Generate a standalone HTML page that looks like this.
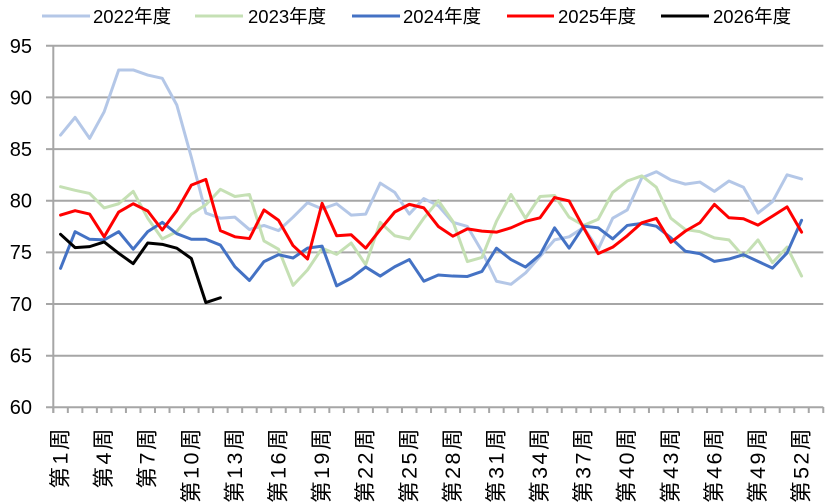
<!DOCTYPE html>
<html>
<head>
<meta charset="utf-8">
<style>
  html, body { margin: 0; padding: 0; background: #ffffff; }
  svg { display: block; }
  text { font-family: "Liberation Sans", "Noto Sans CJK SC", sans-serif; fill: #000; }
</style>
</head>
<body>
<svg width="834" height="502" viewBox="0 0 834 502" xmlns="http://www.w3.org/2000/svg">
  <rect x="0" y="0" width="834" height="502" fill="#ffffff"/>

  <!-- Legend -->
  <g stroke-width="3" stroke-linecap="butt">
    <line x1="42" y1="16" x2="90" y2="16" stroke="#b4c7e7"/>
    <line x1="195" y1="16" x2="243" y2="16" stroke="#c5e0b4"/>
    <line x1="352" y1="16" x2="400" y2="16" stroke="#4472c4"/>
    <line x1="507" y1="16" x2="554" y2="16" stroke="#ff0000"/>
    <line x1="661" y1="16" x2="709" y2="16" stroke="#000000"/>
  </g>
  <g font-size="18.5">
    <text x="93" y="23">2022年度</text>
    <text x="248" y="23">2023年度</text>
    <text x="403" y="23">2024年度</text>
    <text x="558" y="23">2025年度</text>
    <text x="713" y="23">2026年度</text>
  </g>

  <!-- Horizontal gridlines -->
  <g stroke="#a6a6a6" stroke-width="2">
    <line x1="46" y1="45.7" x2="823.3" y2="45.7"/>
    <line x1="46" y1="97.4" x2="823.3" y2="97.4"/>
    <line x1="46" y1="149.1" x2="823.3" y2="149.1"/>
    <line x1="46" y1="200.7" x2="823.3" y2="200.7"/>
    <line x1="46" y1="252.4" x2="823.3" y2="252.4"/>
    <line x1="46" y1="304.0" x2="823.3" y2="304.0"/>
    <line x1="46" y1="355.7" x2="823.3" y2="355.7"/>
    <line x1="46" y1="407.3" x2="823.3" y2="407.3"/>
    <!-- vertical axis -->
    <line x1="53.3" y1="45.7" x2="53.3" y2="413"/>
  </g>
  <!-- X tick marks -->
  <g transform="matrix(14.528 0 0 1 53.3 0)">
    <path fill="none" stroke="#a6a6a6" stroke-width="2" vector-effect="non-scaling-stroke"
      d="M0 407v6M1 407v6M2 407v6M3 407v6M4 407v6M5 407v6M6 407v6M7 407v6M8 407v6M9 407v6M10 407v6M11 407v6M12 407v6M13 407v6M14 407v6M15 407v6M16 407v6M17 407v6M18 407v6M19 407v6M20 407v6M21 407v6M22 407v6M23 407v6M24 407v6M25 407v6M26 407v6M27 407v6M28 407v6M29 407v6M30 407v6M31 407v6M32 407v6M33 407v6M34 407v6M35 407v6M36 407v6M37 407v6M38 407v6M39 407v6M40 407v6M41 407v6M42 407v6M43 407v6M44 407v6M45 407v6M46 407v6M47 407v6M48 407v6M49 407v6M50 407v6M51 407v6M52 407v6M53 407v6"/>
  </g>

  <!-- Y labels -->
  <g font-size="20" text-anchor="end" dominant-baseline="central">
    <text x="32" y="47">95</text>
    <text x="32" y="98.5">90</text>
    <text x="32" y="150">85</text>
    <text x="32" y="201.5">80</text>
    <text x="32" y="253">75</text>
    <text x="32" y="305">70</text>
    <text x="32" y="356.5">65</text>
    <text x="32" y="408">60</text>
  </g>

  <!-- X labels -->
  <g font-size="21.5" letter-spacing="2.5" text-anchor="end" dominant-baseline="central">
    <text transform="translate(60.6,426) rotate(-90)">第1周</text>
    <text transform="translate(104.2,426) rotate(-90)">第4周</text>
    <text transform="translate(147.7,426) rotate(-90)">第7周</text>
    <text transform="translate(191.3,426) rotate(-90)">第10周</text>
    <text transform="translate(234.9,426) rotate(-90)">第13周</text>
    <text transform="translate(278.5,426) rotate(-90)">第16周</text>
    <text transform="translate(322.1,426) rotate(-90)">第19周</text>
    <text transform="translate(365.7,426) rotate(-90)">第22周</text>
    <text transform="translate(409.3,426) rotate(-90)">第25周</text>
    <text transform="translate(452.9,426) rotate(-90)">第28周</text>
    <text transform="translate(496.5,426) rotate(-90)">第31周</text>
    <text transform="translate(540.1,426) rotate(-90)">第34周</text>
    <text transform="translate(583.6,426) rotate(-90)">第37周</text>
    <text transform="translate(627.2,426) rotate(-90)">第40周</text>
    <text transform="translate(670.8,426) rotate(-90)">第43周</text>
    <text transform="translate(714.4,426) rotate(-90)">第46周</text>
    <text transform="translate(758.0,426) rotate(-90)">第49周</text>
    <text transform="translate(801.6,426) rotate(-90)">第52周</text>
  </g>

  <!-- Series (data coords: x = week-1, y = value) -->
  <g transform="matrix(14.53 0 0 -10.33 60.56 1027.05)" fill="none" stroke-linejoin="round" stroke-linecap="round">
    <polyline vector-effect="non-scaling-stroke" stroke="#b4c7e7" stroke-width="3"
      points="0,86.35 1,88.06 2,86.03 3,88.6 4,92.65 5,92.65 6,92.16 7,91.84 8,89.26 9,84.2 10,78.8 11,78.3 12,78.4 13,77.2 14,77.6 15,77.1 16,78.4 17,79.8 18,79.2 19,79.7 20,78.6 21,78.7 22,81.7 23,80.8 24,78.7 25,80.2 26,79.5 27,77.9 28,77.5 29,75.1 30,72.2 31,71.9 32,73.0 33,74.6 34,76.2 35,76.5 36,77.4 37,75.3 38,78.3 39,79.1 40,82.2 41,82.8 42,82.0 43,81.6 44,81.8 45,80.9 46,81.9 47,81.3 48,78.8 49,79.9 50,82.5 51,82.1"/>
    <polyline vector-effect="non-scaling-stroke" stroke="#c5e0b4" stroke-width="3"
      points="0,81.35 1,81.0 2,80.7 3,79.3 4,79.7 5,80.9 6,78.3 7,76.3 8,77.0 9,78.7 10,79.6 11,81.1 12,80.4 13,80.6 14,76.1 15,75.3 16,71.8 17,73.3 18,75.4 19,74.8 20,75.9 21,73.8 22,77.9 23,76.6 24,76.3 25,78.3 26,80.0 27,78.0 28,74.1 29,74.5 30,78.0 31,80.6 32,78.3 33,80.4 34,80.5 35,78.4 36,77.6 37,78.2 38,80.8 39,81.9 40,82.4 41,81.3 42,78.3 43,77.2 44,77.0 45,76.4 46,76.2 47,74.6 48,76.2 49,74.0 50,75.5 51,72.7"/>
    <polyline vector-effect="non-scaling-stroke" stroke="#4472c4" stroke-width="3"
      points="0,73.45 1,77.0 2,76.26 3,76.2 4,77.0 5,75.3 6,77.0 7,77.9 8,76.8 9,76.26 10,76.26 11,75.7 12,73.6 13,72.27 14,74.1 15,74.77 16,74.45 17,75.4 18,75.6 19,71.75 20,72.5 21,73.57 22,72.7 23,73.6 24,74.3 25,72.2 26,72.8 27,72.7 28,72.66 29,73.15 30,75.4 31,74.3 32,73.57 33,74.77 34,77.37 35,75.4 36,77.53 37,77.37 38,76.3 39,77.6 40,77.8 41,77.53 42,76.4 43,75.1 44,74.87 45,74.12 46,74.35 47,74.77 48,74.12 49,73.47 50,74.94 51,78.1"/>
    <polyline vector-effect="non-scaling-stroke" stroke="#ff0000" stroke-width="3"
      points="0,78.6 1,79.03 2,78.7 3,76.5 4,78.9 5,79.7 6,79.0 7,77.16 8,79.03 9,81.5 10,82.06 11,77.1 12,76.5 13,76.33 14,79.1 15,78.1 16,75.65 17,74.35 18,79.74 19,76.6 20,76.7 21,75.4 22,77.2 23,78.9 24,79.64 25,79.3 26,77.5 27,76.56 28,77.27 29,77.05 30,76.95 31,77.37 32,78.0 33,78.34 34,80.3 35,79.97 36,77.37 37,74.87 38,75.5 39,76.6 40,77.86 41,78.28 42,75.97 43,77.05 44,77.86 45,79.64 46,78.34 47,78.25 48,77.63 49,78.5 50,79.4 51,76.95"/>
    <polyline vector-effect="non-scaling-stroke" stroke="#000000" stroke-width="3"
      points="0,76.74 1,75.45 2,75.55 3,76.0 4,74.9 5,73.9 6,75.9 7,75.77 8,75.4 9,74.4 10,70.13 11,70.6"/>
  </g>
</svg>
</body>
</html>
